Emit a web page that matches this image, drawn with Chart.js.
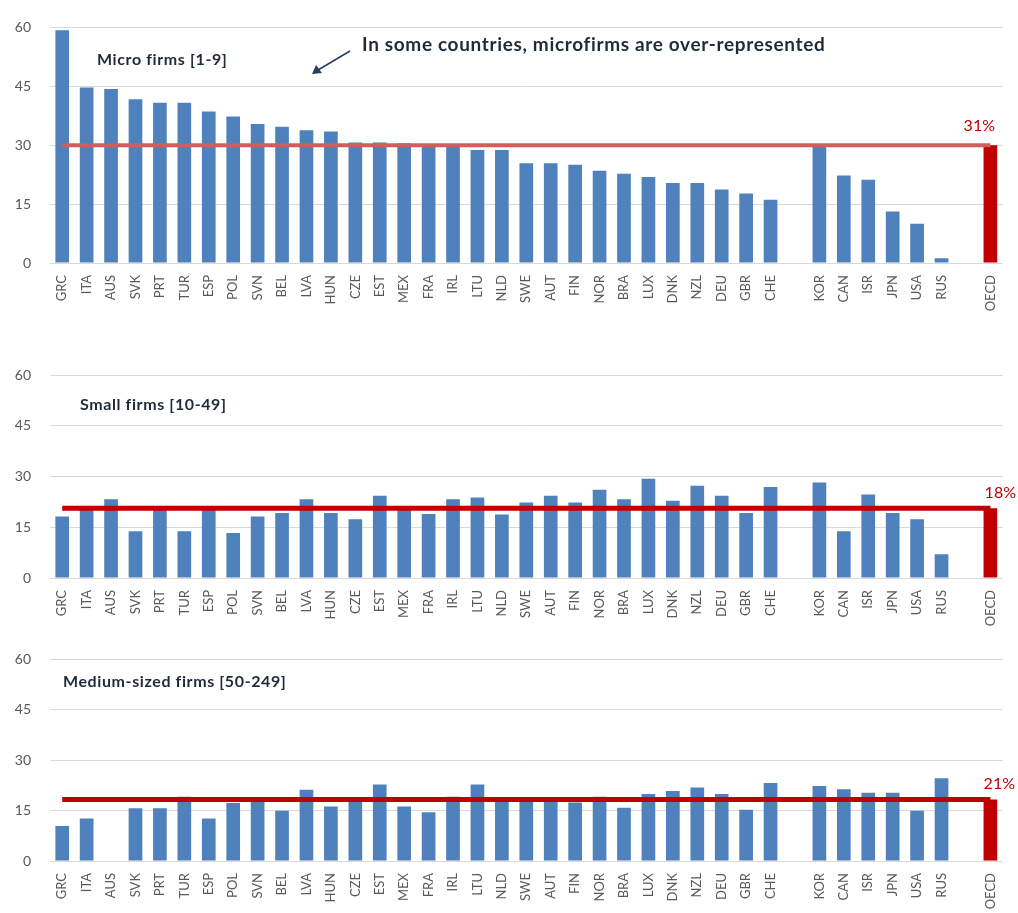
<!DOCTYPE html>
<html><head><meta charset="utf-8">
<script src="https://cdn.jsdelivr.net/npm/chart.js@4/dist/chart.umd.min.js"></script>
<style>
html,body{margin:0;padding:0;background:#fff;}
#wrap{position:relative;width:1018px;height:913px;overflow:hidden;}
canvas{position:absolute;left:0;}
</style></head><body>
<div id="wrap">
<canvas id="c0" width="1018" height="330" style="top:0px"></canvas>
<canvas id="c1" width="1018" height="300" style="top:330px"></canvas>
<canvas id="c2" width="1018" height="283" style="top:630px"></canvas>
</div>
<script>
const categories = ['GRC','ITA','AUS','SVK','PRT','TUR','ESP','POL','SVN','BEL','LVA','HUN','CZE','EST','MEX','FRA','IRL','LTU','NLD','SWE','AUT','FIN','NOR','BRA','LUX','DNK','NZL','DEU','GBR','CHE','','KOR','CAN','ISR','JPN','USA','RUS','','OECD'];

const microValues = [59.3,44.7,44.3,41.7,40.8,40.8,38.6,37.3,35.4,34.7,33.8,33.5,30.7,30.7,30.5,29.9,29.8,28.8,28.8,25.4,25.4,25.0,23.5,22.7,21.9,20.4,20.4,18.7,17.7,16.1,null,29.7,22.3,21.2,13.1,10.0,1.2,null,30.0];
const smallValues = [18.2,20.8,23.3,13.8,20.8,13.8,20.8,13.3,18.2,19.2,23.3,19.2,17.4,24.3,20.8,18.9,23.3,23.8,18.8,22.3,24.3,22.3,26.1,23.3,29.3,22.8,27.3,24.3,19.2,26.9,null,28.2,13.8,24.7,19.2,17.4,7.0,null,20.6];
const mediumValues = [10.4,12.6,null,15.7,15.7,19.1,12.6,17.2,18.4,14.9,21.2,16.2,18.3,22.7,16.2,14.5,19.1,22.7,18.3,18.3,18.3,17.4,19.1,15.8,19.9,20.8,21.8,19.9,15.2,23.2,null,22.3,21.3,20.3,20.3,14.9,24.6,null,18.3];

const averageValues = [30, 20.6, 18.3];
const averageLabels = ['31%', '18%', '21%'];
const panelTitles = ['Micro firms [1-9]', 'Small firms [10-49]', 'Medium-sized firms [50-249]'];
const yTicks = [0, 15, 30, 45, 60];
const noteText = 'In some countries, microfirms are over-represented';

const seriesList = [microValues, smallValues, mediumValues];

const panelLayout = [
  {pt: 23, xh: 67, titleX: 97, titleY: 60, lineColor: '#d45c5a', lineW: 4, pctX: 995, pctDy: 19},
  {pt: 45, xh: 52, titleX: 80, titleY: 75, lineColor: '#c00000', lineW: 5, pctX: 1016, pctDy: 15},
  {pt: 29, xh: 52, titleX: 63, titleY: 52, lineColor: '#c00000', lineW: 5, pctX: 1015, pctDy: 16}
];

const FONT = 'Lato, "Open Sans", sans-serif';

const textPlugin = {
  id: 'panelText',
  afterDatasetsDraw(chart, args, opts) {
    const ctx = chart.ctx;
    const y = chart.scales.y;
    ctx.save();
    ctx.font = 'bold 16px ' + FONT;
    ctx.fillStyle = '#1f2a3a';
    ctx.textAlign = 'left';
    ctx.textBaseline = 'middle';
    if ('letterSpacing' in ctx) ctx.letterSpacing = '0.6px';
    ctx.fillText(opts.title, opts.titleX, opts.titleY);
    if ('letterSpacing' in ctx) ctx.letterSpacing = '0px';
    ctx.font = '16px ' + FONT;
    ctx.fillStyle = '#c00000';
    ctx.textAlign = 'right';
    ctx.fillText(opts.pct, opts.pctX, y.getPixelForValue(opts.avg) - opts.pctDy);
    if (opts.note) {
      ctx.font = 'bold 19px ' + FONT;
      if ('letterSpacing' in ctx) ctx.letterSpacing = '0.65px';
      ctx.fillStyle = '#1f2a3a';
      ctx.textAlign = 'left';
      ctx.fillText(opts.note, 362, 45);
      ctx.strokeStyle = '#243f60';
      ctx.fillStyle = '#243f60';
      ctx.lineWidth = 1.5;
      ctx.beginPath();
      ctx.moveTo(350, 51);
      ctx.lineTo(318, 70);
      ctx.stroke();
      ctx.beginPath();
      ctx.moveTo(312, 74);
      ctx.lineTo(316, 65);
      ctx.lineTo(322, 73);
      ctx.closePath();
      ctx.fill();
    }
    ctx.restore();
  }
};

seriesList.forEach((vals, i) => {
  const L = panelLayout[i];
  const lineData = categories.map((c, k) => (k === 0 || k === categories.length - 1) ? averageValues[i] : null);
  const barColors = categories.map(c => c === 'OECD' ? '#c00000' : '#4f81bd');
  new Chart(document.getElementById('c' + i), {
    type: 'bar',
    data: {
      labels: categories,
      datasets: [
        {type: 'line', data: lineData, borderColor: L.lineColor, borderWidth: L.lineW, pointRadius: 0, spanGaps: true, order: 0, borderCapStyle: 'butt'},
        {type: 'bar', data: vals, backgroundColor: barColors, barPercentage: 0.56, categoryPercentage: 1, order: 1}
      ]
    },
    options: {
      responsive: false,
      animation: false,
      events: [],
      layout: {padding: {top: L.pt, right: 1, left: 0, bottom: 0}},
      plugins: {
        legend: {display: false},
        tooltip: {enabled: false},
        panelText: {title: panelTitles[i], titleX: L.titleX, titleY: L.titleY, pct: averageLabels[i], avg: averageValues[i], pctX: L.pctX, pctDy: L.pctDy, note: i === 0 ? noteText : null}
      },
      scales: {
        x: {
          offset: true,
          grid: {display: false, drawTicks: false},
          border: {display: false},
          ticks: {autoSkip: false, minRotation: 90, maxRotation: 90, padding: 12, color: '#595959', font: {family: FONT, size: 13}},
          afterFit(s) { s.height = L.xh; }
        },
        y: {
          min: 0, max: 60,
          afterBuildTicks(s) { s.ticks = yTicks.map(v => ({value: v})); },
          grid: {color: '#d9d9d9', lineWidth: 1, drawTicks: false},
          border: {display: false},
          ticks: {padding: 19, color: '#595959', font: {family: FONT, size: 14}},
          afterFit(s) { s.width = 50; }
        }
      }
    },
    plugins: [textPlugin]
  });
});
</script>
</body></html>
